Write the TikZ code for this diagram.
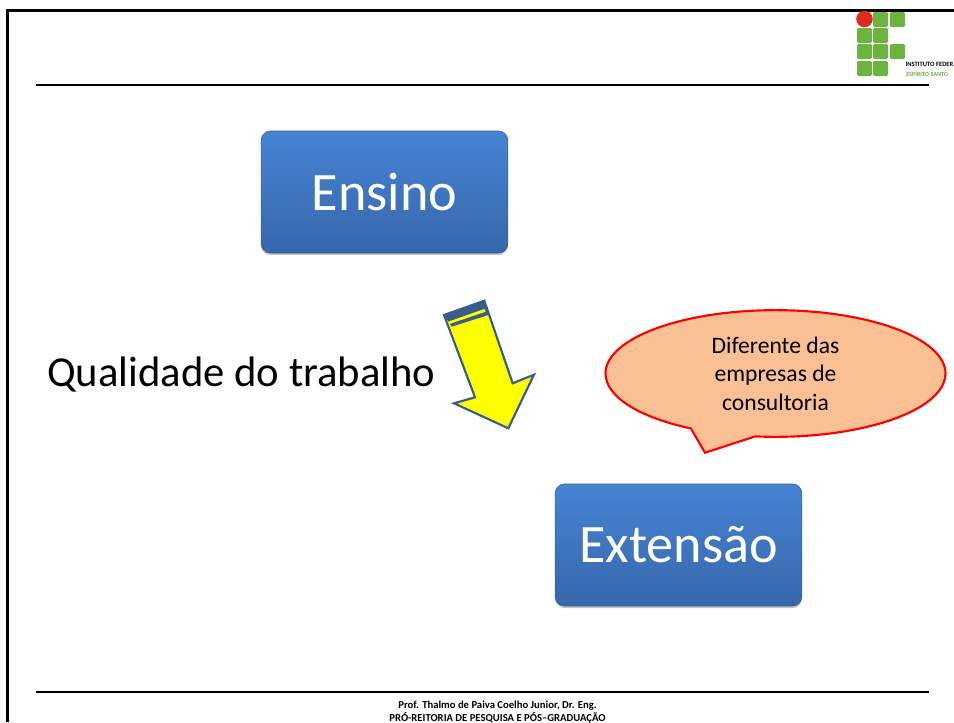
\documentclass[tikz,border=0pt]{standalone}
\usepackage{fontspec}
\setmainfont{Carlito}
\usetikzlibrary{shapes.callouts,shadows}
\definecolor{logogreen}{HTML}{6DB33F}
\definecolor{logored}{HTML}{DD2A1B}
\definecolor{arrowblue}{HTML}{385D8A}
\definecolor{arrowyellow}{HTML}{FFFF00}
\definecolor{boxtop}{HTML}{4684D4}
\definecolor{boxbottom}{HTML}{3767AB}
\definecolor{boxedge}{HTML}{2F5C99}
\definecolor{bubblefill}{HTML}{F9C193}
\tikzset{
  rulebar/.style={line width=1.5pt},
  topicbox/.style={rounded corners=7pt, minimum width=185pt, minimum height=91.5pt,
    top color=boxtop, bottom color=boxbottom, draw=boxedge, line width=0.4pt,
    text=white, font=\fontsize{40.6}{40.6}\selectfont,
    drop shadow={shadow xshift=0pt, shadow yshift=-1.6pt, opacity=0.45}},
  logosquare/.style={fill=logogreen, rounded corners=1pt}
}
\begin{document}
\begin{tikzpicture}[x=0.75pt,y=-0.75pt]
\useasboundingbox (0,0) rectangle (954,722);
\fill[white] (0,0) rectangle (954,722);
% Page frame and rules
\draw[line width=2pt] (7.5,722) -- (7.5,10.5) -- (954,10.5);
\draw[rulebar] (36,85) -- (929,85);
\draw[rulebar] (36,692) -- (929,692);
% Logo
\foreach \x/\y in {873/12,890/12,857/28,873/28,857/44,873/44,890/44,857/61,873/61} {
  \fill[logosquare] (\x,\y) rectangle ++(15,15);
}
\fill[logored] (864.5,19) circle (6.2pt);
\node[anchor=east, inner sep=0pt, font=\fontsize{4.9}{4.9}\bfseries\selectfont] (logotop) at (953.5,64) {INSTITUTO FEDER};
\node[anchor=west, inner sep=0pt, text=logogreen, font=\fontsize{4.6}{4.6}\bfseries\selectfont] (logobottom) at (906,74) {ESPÍRITO SANTO};
% Boxes
\node[topicbox] (ensino) at (384.5,192) {Ensino};
\node[topicbox] (extensao) at (678.5,545) {Extensão};
\node[anchor=west, inner sep=0pt, font=\fontsize{32}{32}\selectfont] (qualidade) at (47,375) {Qualidade do trabalho};
% Arrow
\draw[fill=arrowyellow, draw=arrowblue, line width=1.6pt, line join=miter]
  (444,315) -- (484.3,300.7) -- (512.7,383.3) -- (534,374.7) -- (508.3,428.3) -- (454,403.3) -- (475,397.3) -- cycle;
\fill[arrowblue] (444,315) -- (484.3,300.7) -- (488.3,315) -- (451.7,326.7) -- cycle;
\fill[arrowyellow] (448.3,321.7) -- (484.3,309) -- (485.7,311.7) -- (449.3,324) -- cycle;
% Speech bubble
\node[ellipse callout, draw=red, fill=bubblefill, line width=1.6pt, minimum width=255pt, minimum height=95pt,
  callout absolute pointer={(705,452.7)}, callout pointer arc=23,
  align=center, font=\fontsize{17.7}{21.4}\selectfont] (bubble) at (775.5,373.5) {Diferente das\\empresas de\\consultoria};
% Footer
\node[inner sep=0pt, align=center, font=\fontsize{8}{9.6}\bfseries\selectfont, anchor=north] (rodape) at (497.5,700.5)
  {Prof. Thalmo de Paiva Coelho Junior, Dr. Eng.\\PRÓ-REITORIA DE PESQUISA E PÓS--GRADUAÇÃO};
\end{tikzpicture}
\end{document}
